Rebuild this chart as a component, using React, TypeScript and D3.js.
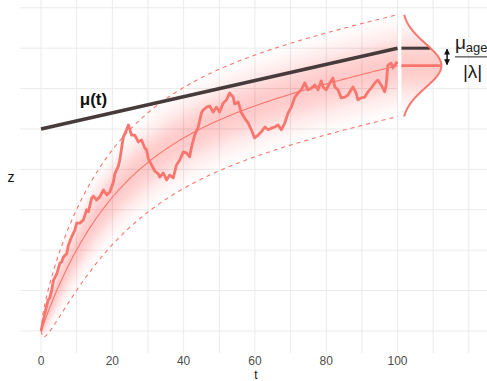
import React from "react";
import * as d3 from "d3";

// Observed trajectory z(t)
const tObs = [0, 1.1, 2.0, 2.5, 3.0, 3.5, 4.4, 5.3, 5.8, 6.3, 7.2, 7.7, 8.6, 9.5, 10.0, 10.9, 11.9, 12.8, 13.3, 14.2, 14.7, 15.6, 16.5, 17.5, 18.4, 19.3, 20.3, 20.7, 21.7, 22.1, 22.6, 23.1, 24.0, 24.5, 25.4, 26.3, 27.3, 28.2, 29.1, 29.6, 30.1, 31.0, 31.9, 32.9, 33.3, 34.3, 35.2, 36.1, 37.1, 38.0, 38.9, 39.9, 40.8, 41.7, 42.2, 43.1, 44.1, 45.0, 45.5, 46.4, 47.3, 48.3, 49.2, 50.1, 51.1, 52.0, 52.9, 53.9, 54.3, 55.3, 56.2, 57.1, 58.1, 59.0, 59.9, 60.9, 61.8, 62.8, 63.7, 64.6, 65.6, 66.5, 67.4, 68.4, 69.3, 70.2, 71.2, 72.1, 73.0, 74.0, 74.9, 75.8, 76.8, 77.7, 78.6, 79.1, 80.0, 81.0, 81.9, 82.4, 83.3, 84.2, 85.2, 86.1, 87.0, 87.5, 88.4, 88.9, 89.8, 90.8, 91.7, 92.6, 93.6, 94.5, 95.4, 96.4, 96.8, 97.3, 98.2, 98.7, 99.6, 100];
const zObs = [0, 0.45, 0.77, 0.82, 1.02, 1.26, 1.41, 1.68, 1.71, 1.83, 1.91, 2.13, 2.33, 2.5, 2.67, 2.67, 2.75, 3.0, 2.95, 3.29, 3.34, 3.24, 3.32, 3.49, 3.37, 3.44, 3.69, 3.89, 4.08, 4.23, 4.53, 4.8, 4.98, 5.1, 4.85, 4.85, 4.68, 4.73, 4.53, 4.48, 4.26, 4.11, 3.96, 3.89, 3.81, 3.91, 3.74, 3.86, 3.79, 4.11, 4.23, 4.43, 4.41, 4.31, 4.55, 4.85, 5.05, 5.4, 5.47, 5.54, 5.57, 5.42, 5.54, 5.42, 5.64, 5.72, 5.89, 5.79, 5.62, 5.67, 5.4, 5.27, 5.15, 4.98, 4.78, 4.85, 4.93, 5.05, 4.98, 5.02, 5.05, 5.1, 4.98, 5.15, 5.4, 5.54, 5.79, 5.89, 5.97, 6.14, 5.97, 6.01, 6.09, 5.97, 6.19, 6.04, 5.97, 6.14, 6.26, 6.04, 5.97, 5.77, 5.79, 5.84, 5.97, 6.04, 5.89, 5.72, 5.77, 5.79, 5.92, 6.01, 6.14, 6.21, 6.09, 5.92, 6.09, 6.58, 6.63, 6.51, 6.63, 6.66];

// Optimum mu(t): straight line between its end points
const muT = [0, 100];
const muZ = [5, 7];

// OU model parameters
const Z0 = 0;
const MU_AGE = 0.02; // slope of mu(t)
const LAMBDA = 0.05;
const SD_INF = 0.542; // stationary standard deviation
const Q = 2.326; // 98% interval multiplier
const T_END = 100;

const xTicks = [0, 20, 40, 60, 80, 100];
const xGrid = d3.range(0, 121, 10);
const yGrid = d3.range(0, 9, 1);

const RED = "#F8766D";
const DARK = "#463b3a";
const W = 487;
const H = 381;

const muAt = (t: number) => muZ[0] + ((muZ[1] - muZ[0]) / (muT[1] - muT[0])) * (t - muT[0]);
const lag = MU_AGE / LAMBDA;
const meanAt = (t: number) => muAt(t) - lag + (Z0 - muZ[0] + lag) * Math.exp(-LAMBDA * t);
const sdAt = (t: number) => SD_INF * Math.sqrt(1 - Math.exp(-2 * LAMBDA * t));

export default function App() {
  const x = d3.scaleLinear().domain([-5.9, 125.1]).range([20, 487]);
  const y = d3.scaleLinear().domain([-0.545, 8.193]).range([353, 0]);

  const tGrid = d3.range(0, T_END + 0.001, 0.5);

  // Shaded band: nested ribbons whose opacities build a Gaussian fade
  const NB = 28;
  const aMax = 0.37;
  const phi = (u: number) => Math.exp(-(u * u) / 2);
  const bands = d3.range(1, NB + 1).map((k) => {
    const u = (k / NB) * Q;
    const uPrev = ((k - 1) / NB) * Q;
    const op = aMax * (phi(uPrev) - phi(u)) + (k === NB ? aMax * phi(u) * 0.3 : 0);
    const area = d3
      .area<number>()
      .x((t) => x(t))
      .y0((t) => y(meanAt(t) - u * sdAt(t)))
      .y1((t) => y(meanAt(t) + u * sdAt(t)));
    return { d: area(tGrid) || "", op };
  });

  const meanPath = d3.line<number>().x((t) => x(t)).y((t) => y(meanAt(t)))(tGrid) || "";
  const upperPath = d3.line<number>().x((t) => x(t)).y((t) => y(meanAt(t) + Q * sdAt(t)))(tGrid) || "";
  const lowerPath = d3.line<number>().x((t) => x(t)).y((t) => y(meanAt(t) - Q * sdAt(t)))(tGrid) || "";

  const obsPath =
    d3
      .line<number>()
      .x((_, i) => x(tObs[i]))
      .y((z) => y(z))(zObs) || "";

  const muPath =
    d3
      .line<number>()
      .x((_, i) => x(muT[i]))
      .y((z) => y(z))(muZ) || "";

  // Stationary density at t = 100, drawn sideways
  const m100 = meanAt(T_END);
  const s100 = sdAt(T_END);
  const dBase = 101.1;
  const dAmp = 11.2;
  const us = d3.range(-Q, Q + 0.0001, Q / 60);
  const densPts = us.map((u) => [x(dBase + dAmp * phi(u)), y(m100 + u * s100)] as [number, number]);
  const densLine = d3.line()(densPts) || "";
  const densArea =
    d3
      .area<[number, number]>()
      .x0(() => x(dBase))
      .x1((p) => p[0])
      .y((p) => p[1])(densPts) || "";
  const muEndU = (muAt(T_END) - m100) / s100;
  const muSegEnd = dBase + dAmp * phi(muEndU);

  const gradStops = d3.range(0, 41).map((i) => {
    const u = -Q + (2 * Q * i) / 40;
    return { off: i / 40, op: 0.38 * phi(u) };
  });

  const arrowX = x(113.9);
  const yMu = y(muAt(T_END));
  const yMean = y(m100);
  const fracX = x(116.1);
  const fracMid = (yMu + yMean) / 2;

  const font = "'Liberation Sans', Arial, sans-serif";

  return (
    <svg
      width={W}
      height={H}
      style={{ position: "absolute", left: 0, top: 0, background: "#fff" }}
      fontFamily={font}
    >
      <defs>
        <linearGradient
          id="densFill"
          gradientUnits="userSpaceOnUse"
          x1={0}
          x2={0}
          y1={y(m100 + Q * s100)}
          y2={y(m100 - Q * s100)}
        >
          {gradStops.map((s, i) => (
            <stop key={i} offset={s.off} stopColor={RED} stopOpacity={s.op} />
          ))}
        </linearGradient>
        <marker id="ah" viewBox="0 0 10 10" refX="9" refY="5" markerWidth="4" markerHeight="4" orient="auto-start-reverse">
          <path d="M0,0 L10,5 L0,10 z" fill="#111" />
        </marker>
      </defs>

      {/* grid */}
      <g stroke="#EBEBEB" strokeWidth={1}>
        {yGrid.map((g) => (
          <line key={"h" + g} x1={20} x2={487} y1={y(g)} y2={y(g)} />
        ))}
        {xGrid.map((g) => (
          <line key={"v" + g} x1={x(g)} x2={x(g)} y1={0} y2={353} />
        ))}
      </g>

      {/* shaded predictive band */}
      <g fill={RED}>
        {bands.map((b, i) => (
          <path key={i} d={b.d} fillOpacity={b.op} stroke="none" />
        ))}
      </g>

      <path d={upperPath} fill="none" stroke={RED} strokeWidth={1.1} strokeDasharray="4,4" />
      <path d={lowerPath} fill="none" stroke={RED} strokeWidth={1.1} strokeDasharray="4,4" />
      <path d={meanPath} fill="none" stroke={RED} strokeWidth={1.1} />

      <path d={obsPath} fill="none" stroke={RED} strokeWidth={2.8} strokeLinejoin="round" />

      <path d={muPath} fill="none" stroke={DARK} strokeWidth={3.6} />

      {/* sideways density */}
      <rect
        x={x(T_END) + 0.5}
        width={x(dBase) - x(T_END) - 0.5}
        y={y(m100 + Q * s100) - 1}
        height={y(m100 - Q * s100) - y(m100 + Q * s100) + 2}
        fill="#fff"
      />
      <path d={densArea} fill="#fff" />
      <path d={densArea} fill="url(#densFill)" />
      <line x1={x(dBase)} x2={x(muSegEnd)} y1={yMu} y2={yMu} stroke={DARK} strokeWidth={3} />
      <line x1={x(dBase)} x2={x(dBase + dAmp)} y1={yMean} y2={yMean} stroke={RED} strokeWidth={2.6} />
      <path d={densLine} fill="none" stroke={RED} strokeWidth={2} />

      <line
        x1={arrowX}
        x2={arrowX}
        y1={yMu + 1}
        y2={yMean - 1}
        stroke="#111"
        strokeWidth={1.5}
        markerStart="url(#ah)"
        markerEnd="url(#ah)"
      />

      {/* lag label */}
      <text x={fracX} y={fracMid - 8} fontSize={19} fill="#222">
        μ<tspan fontSize={13} dy={3}>age</tspan>
      </text>
      <line x1={fracX} x2={W + 5} y1={fracMid} y2={fracMid} stroke="#222" strokeWidth={1} />
      <text x={fracX + 8} y={fracMid + 21} fontSize={19} fill="#222">
        |λ|
      </text>

      <text x={x(14.7)} y={y(5.6)} fontSize={17} fontWeight="bold" fill="#111" textAnchor="middle">
        μ(t)
      </text>

      {/* axes */}
      <g fontSize={12} fill="#4D4D4D" textAnchor="middle">
        {xTicks.map((t) => (
          <text key={t} x={x(t)} y={365}>
            {t}
          </text>
        ))}
      </g>
      <text x={256} y={378.5} fontSize={12} fill="#111" textAnchor="middle">
        t
      </text>
      <text x={11} y={182} fontSize={14} fill="#111" textAnchor="middle">
        z
      </text>
    </svg>
  );
}
